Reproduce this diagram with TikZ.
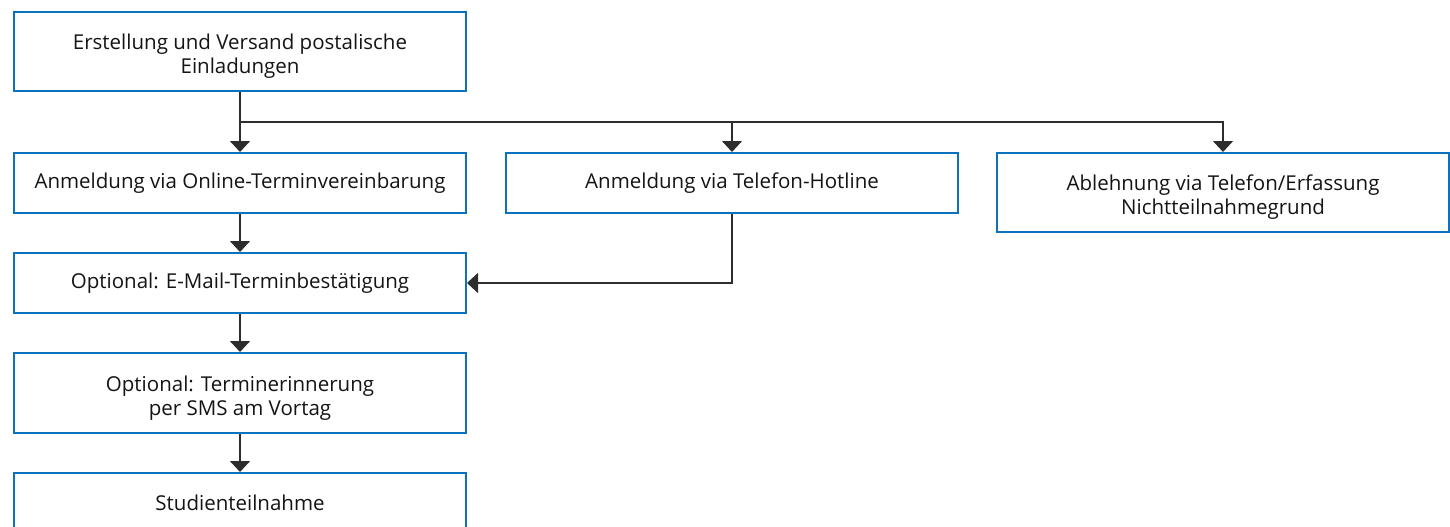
\documentclass[tikz,border=0pt]{standalone}
\usepackage{fontspec}
\setmainfont{Open Sans}
\usetikzlibrary{arrows.meta}
\definecolor{boxblue}{RGB}{10,114,190}
\definecolor{linegray}{RGB}{45,45,45}
\definecolor{txt}{RGB}{20,20,20}
\tikzset{
  box/.style={draw=boxblue, line width=2pt, minimum width=452pt, align=center,
    text=txt, font=\fontsize{20.5}{24}\selectfont, inner sep=0pt},
  onebox/.style={box, minimum height=60pt},
  twobox/.style={box, minimum height=79pt, text height=49pt, text depth=5pt},
  conn/.style={draw=linegray, line width=1.5pt, -{Triangle[width=20pt,length=11pt]}},
}
\begin{document}
\begin{tikzpicture}[x=1pt,y=-1pt]
\useasboundingbox (0,0) rectangle (1450,527);
\node[twobox] (b1) at (240,51.5) {Erstellung und Versand postalische\\Einladungen};
\node[onebox] (b2) at (240,183) {Anmeldung via Online-Terminvereinbarung};
\node[onebox] (b3) at (732,183) {Anmeldung via Telefon-Hotline};
\node[twobox] (b4) at (1223,192.5) {Ablehnung via Telefon/Erfassung\\Nichtteilnahmegrund};
\node[onebox] (b5) at (240,283) {Optional: E-Mail-Terminbestätigung};
\node[twobox,minimum height=80pt] (b6) at (240,393) {Optional: Terminerinnerung\\per SMS am Vortag};
\node[onebox] (b7) at (240,503) {Studienteilnahme};
\coordinate (j) at (240,122);
\draw[conn] (b1) -- (b2);
\draw[conn] (j) -| (b3);
\draw[conn] (j) -| (b4);
\draw[conn] (b3) |- (b5);
\draw[conn] (b2) -- (b5);
\draw[conn] (b5) -- (b6);
\draw[conn] (b6) -- (b7);
\end{tikzpicture}
\end{document}
